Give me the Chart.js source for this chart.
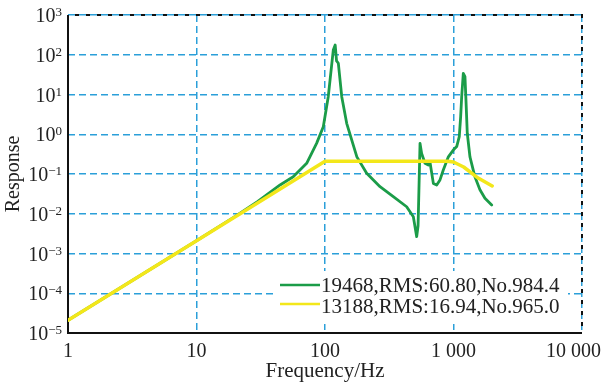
<!DOCTYPE html>
<html>
<head>
<meta charset="utf-8">
<script src="https://cdn.jsdelivr.net/npm/chart.js@4"></script>
<style>
  html, body { margin: 0; padding: 0; background: #fff; }
  #wrap { width: 606px; height: 384px; }
</style>
</head>
<body>
<div id="wrap"><canvas id="respChart" width="606" height="384"></canvas></div>
<script>
// Data
const greenFreq = [1, 10, 20, 30, 44.7, 56.6, 72, 86, 97, 106, 116, 120, 123, 127, 135, 147.5, 177, 211, 268, 340, 432, 487, 517, 530, 549, 565, 600, 637, 656, 697, 740, 785, 833, 912, 996, 1059, 1109, 1137, 1158, 1192, 1228, 1250, 1280, 1343, 1468, 1606, 1757, 1982];
const greenResp = [2.1e-5, 2.1e-3, 8.6e-3, 0.0205, 0.053, 0.0855, 0.186, 0.59, 1.55, 8.8, 131, 176, 70, 61, 8.8, 1.88, 0.27, 0.104, 0.048, 0.027, 0.015, 0.0084, 0.00265, 0.005, 0.59, 0.33, 0.186, 0.168, 0.2, 0.058, 0.053, 0.071, 0.126, 0.27, 0.40, 0.49, 0.87, 2.77, 8.8, 34, 28, 7.3, 1.06, 0.27, 0.085, 0.040, 0.0245, 0.0166];

const yellowFreq = [1, 100, 900, 1000, 1200, 1520, 2000];
const yellowResp = [2.1e-5, 0.21, 0.21, 0.2, 0.15, 0.083, 0.05];

const legendLabels = ["19468,RMS:60.80,No.984.4", "13188,RMS:16.94,No.965.0"];

const xTickValues = [1, 10, 100, 1000, 10000];
const xTickLabels = ["1", "10", "100", "1 000", "10 000"];
const yTickExponents = [-5, -4, -3, -2, -1, 0, 1, 2, 3];

const GREEN = "#1b9c48";
const YELLOW = "#f3e71a";
const GRID = "#2b9fd9";
const SERIF = '"Liberation Serif", "Times New Roman", serif';

function toPoints(xs, ys) {
  return xs.map((v, i) => ({ x: v, y: ys[i] }));
}

// Tick labels, frame and legend drawn by hand
const decorPlugin = {
  id: "decor",
  beforeDatasetsDraw(chart) {
    const { ctx, chartArea: a } = chart;
    ctx.save();
    ctx.strokeStyle = "#111";
    ctx.lineWidth = 2;
    ctx.beginPath();
    ctx.moveTo(a.left, a.top);
    ctx.lineTo(a.left, a.bottom);
    ctx.lineTo(a.right, a.bottom);
    ctx.stroke();
    // top / right edges: black dashes in the gaps of the blue grid dashes
    ctx.setLineDash([4, 7]);
    ctx.lineDashOffset = -7;
    ctx.beginPath();
    ctx.moveTo(a.left, a.top);
    ctx.lineTo(a.right, a.top);
    ctx.lineTo(a.right, a.bottom);
    ctx.stroke();
    ctx.restore();
  },
  afterDraw(chart) {
    const { ctx, scales } = chart;
    ctx.save();
    ctx.fillStyle = "#222";
    ctx.textBaseline = "alphabetic";

    // y labels: 10 with raised exponent
    yTickExponents.forEach(e => {
      const py = scales.y.getPixelForValue(Math.pow(10, e));
      const exp = e < 0 ? "\u2212" + (-e) : String(e);
      ctx.font = "13px " + SERIF;
      ctx.textAlign = "right";
      ctx.fillText(exp, 62, py + 1);
      const w = ctx.measureText(exp).width;
      ctx.font = "20px " + SERIF;
      ctx.fillText("10", 62 - w, py + 7);
    });

    // x labels (last one kept inside the canvas)
    ctx.font = "20px " + SERIF;
    xTickValues.forEach((v, i) => {
      const px = scales.x.getPixelForValue(v);
      const last = i === xTickValues.length - 1;
      ctx.textAlign = last ? "right" : "center";
      ctx.fillText(xTickLabels[i], last ? 601 : px, 357);
    });

    // legend inside the plot
    ctx.fillStyle = "#fff";
    ctx.fillRect(276, 271, 292, 53);
    const colors = [GREEN, YELLOW];
    const rows = [285, 304];
    ctx.font = "21px " + SERIF;
    ctx.textAlign = "left";
    legendLabels.forEach((t, i) => {
      ctx.strokeStyle = colors[i];
      ctx.lineWidth = 2.5;
      ctx.beginPath();
      ctx.moveTo(280, rows[i]);
      ctx.lineTo(320, rows[i]);
      ctx.stroke();
      ctx.fillStyle = "#222";
      ctx.fillText(t, 321, rows[i] + 7 + i * 2);
    });
    ctx.restore();
  }
};

const ctx = document.getElementById("respChart").getContext("2d");
const chart = new Chart(ctx, {
  type: "line",
  data: {
    datasets: [
      { label: legendLabels[1], data: toPoints(yellowFreq, yellowResp), borderColor: YELLOW, borderWidth: 3.5, order: 0 },
      { label: legendLabels[0], data: toPoints(greenFreq, greenResp), borderColor: GREEN, borderWidth: 2.8, order: 1 }
    ]
  },
  options: {
    responsive: false,
    animation: false,
    layout: { padding: { left: 0, right: 24, top: 15, bottom: 0 } },
    elements: {
      point: { radius: 0 },
      line: { tension: 0, borderJoinStyle: "round", borderCapStyle: "round" }
    },
    plugins: { legend: { display: false }, tooltip: { enabled: false } },
    scales: {
      x: {
        type: "logarithmic",
        min: 1,
        max: 10000,
        afterBuildTicks: s => { s.ticks = xTickValues.map(v => ({ value: v })); },
        afterFit: s => { s.height = 51; },
        ticks: { display: false },
        grid: { color: GRID, lineWidth: 1.5, drawTicks: false },
        border: { display: false, dash: [7, 4] },
        title: { display: true, text: "Frequency/Hz", color: "#222", font: { family: SERIF, size: 21 }, padding: { top: 0, bottom: 0 } }
      },
      y: {
        type: "logarithmic",
        min: 1e-5,
        max: 1e3,
        afterBuildTicks: s => { s.ticks = yTickExponents.map(e => ({ value: Math.pow(10, e) })); },
        afterFit: s => { s.width = 68; },
        ticks: { display: false },
        grid: { color: GRID, lineWidth: 1.5, drawTicks: false },
        border: { display: false, dash: [7, 4] },
        title: { display: true, text: "Response", color: "#222", font: { family: SERIF, size: 20 }, padding: { top: 2, bottom: 0 } }
      }
    }
  },
  plugins: [decorPlugin]
});
</script>
</body>
</html>
